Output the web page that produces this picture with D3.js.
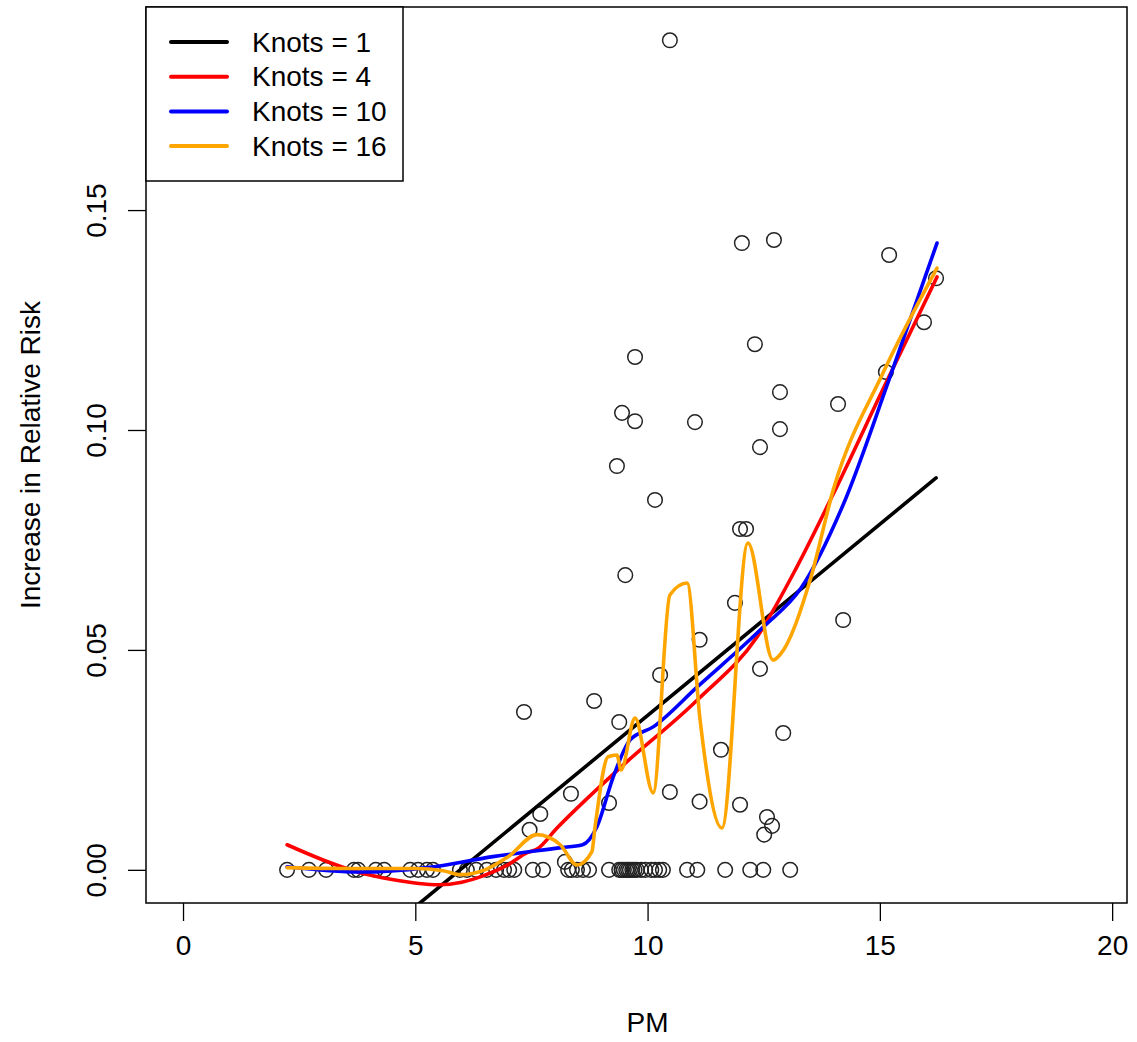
<!DOCTYPE html>
<html>
<head>
<meta charset="utf-8">
<script src="https://cdn.jsdelivr.net/npm/d3@7"></script>
<style>
  html, body { margin: 0; padding: 0; background: #fff; }
  text { font-family: "Liberation Sans", Arial, sans-serif; fill: #000; }
</style>
</head>
<body>
<svg id="chart" width="1137" height="1042"></svg>
<script>
// ---- data ----
const xTicks = [0, 5, 10, 15, 20];
const yTicks = [0.00, 0.05, 0.10, 0.15];
const yTickLabels = ["0.00", "0.05", "0.10", "0.15"];

const pointsPM = [
  10.48, 12.72, 12.03, 15.2, 16.21, 15.95, 12.31, 9.73, 15.13, 12.85, 14.1, 9.45, 9.73, 11.02, 12.85,
  12.42, 9.34, 10.16, 11.99, 12.12, 9.52, 11.88, 14.21, 11.12, 12.42, 10.27, 7.34, 8.85, 9.39, 12.92,
  11.58, 8.35, 10.48, 11.12, 9.17, 11.99, 7.69, 12.57, 7.46, 12.68, 12.51, 8.22,
  2.24, 2.71, 3.08, 3.68, 3.77, 4.15, 4.33, 4.89, 5.06, 5.25, 5.38, 5.96, 6.11, 6.31, 6.54, 6.74,
  6.91, 7.02, 7.13, 7.53, 7.75, 8.29, 8.37, 8.48, 8.61, 8.74, 9.17, 9.39, 9.44, 9.49, 9.54, 9.58,
  9.62, 9.67, 9.72, 9.77, 9.86, 9.95, 10.08, 10.16, 10.25, 10.33, 10.85, 11.07, 11.67, 12.21, 12.49, 13.07
];
const pointsRR = [
  0.1886, 0.1432, 0.1425, 0.1398, 0.1345, 0.1245, 0.1195, 0.1166, 0.1132, 0.1086, 0.1059, 0.1039, 0.1020, 0.1018, 0.1002,
  0.0961, 0.0918, 0.0841, 0.0775, 0.0775, 0.0670, 0.0607, 0.0568, 0.0523, 0.0457, 0.0443, 0.0359, 0.0384, 0.0336, 0.0311,
  0.0273, 0.0173, 0.0177, 0.0155, 0.0152, 0.0148, 0.0127, 0.0120, 0.0091, 0.0100, 0.0080, 0.0018,
  0, 0, 0, 0, 0, 0, 0, 0, 0, 0, 0, 0, 0, 0, 0, 0,
  0, 0, 0, 0, 0, 0, 0, 0, 0, 0, 0, 0, 0, 0, 0, 0,
  0, 0, 0, 0, 0, 0, 0, 0, 0, 0, 0, 0, 0, 0, 0, 0
];

const seriesNames = ["Knots = 1", "Knots = 4", "Knots = 10", "Knots = 16"];
const seriesColors = ["#000000", "#ff0000", "#0000ff", "#ffa500"];

const knots1PM = [2.24, 16.21];
const knots1RR = [-0.0324, 0.0891];

const knots4PM = [2.24, 3.0, 3.76, 4.5, 5.5, 6.0, 6.5, 7.0, 7.41, 7.62, 8.05, 9.41, 11.07, 12.36, 13.22, 14.0, 15.1, 16.23];
const knots4RR = [0.0057, 0.0023, -0.0005, -0.0022, -0.0034, -0.0028, -0.0012, 0.0012, 0.0039, 0.0047, 0.0095, 0.0232, 0.0386, 0.0530, 0.0690, 0.0855, 0.1100, 0.1348];

const knots10PM = [2.24, 3.8, 5.25, 6.67, 8.1, 8.6, 8.91, 9.26, 9.62, 10.12, 11.07, 12.49, 13.3, 14.21, 15.2, 16.23];
const knots10RR = [0.0007, -0.0005, 0.0005, 0.0030, 0.0050, 0.0057, 0.0098, 0.0211, 0.0295, 0.0325, 0.0416, 0.0552, 0.0640, 0.0830, 0.1115, 0.1425];

const knots16PM = [2.24, 3.5, 5.0, 5.6, 5.96, 6.5, 7.0, 7.62, 8.12, 8.48, 8.8, 8.87, 9.15, 9.34, 9.43, 9.73, 10.12, 10.48, 10.85, 11.13, 11.6, 12.16, 12.7, 12.85, 13.5, 14.0, 15.07, 16.23];
const knots16RR = [0.0005, 0.0003, 0.0003, -0.0002, -0.0011, 0.0000, 0.0030, 0.0080, 0.0057, 0.0011, 0.0041, 0.0098, 0.0257, 0.0261, 0.0227, 0.0345, 0.0175, 0.0625, 0.0652, 0.0341, 0.0095, 0.0743, 0.0477, 0.0489, 0.0659, 0.0865, 0.1130, 0.1368];

// ---- layout ----
const svg = d3.select("#chart");
const pLeft = 146, pRight = 1127, pTop = 7, pBottom = 903;

const x = d3.scaleLinear().domain([-0.797, 20.32]).range([pLeft, pRight]);
const y = d3.scaleLinear().domain([-0.00754, 0.19617]).range([pBottom, pTop]);

svg.append("defs").append("clipPath").attr("id", "plotclip")
  .append("rect").attr("x", pLeft).attr("y", pTop).attr("width", pRight - pLeft).attr("height", pBottom - pTop);

// axes
const xAxis = d3.axisBottom(x).tickValues(xTicks).tickSize(18).tickPadding(14).tickFormat(d3.format("d"));
const gx = svg.append("g").attr("transform", `translate(0,${pBottom})`).call(xAxis);
gx.select(".domain").remove();
gx.selectAll(".tick line").attr("stroke", "#000").attr("stroke-width", 1.3);
gx.selectAll(".tick text").attr("font-size", 28).attr("dy", "0.72em");

const yAxis = d3.axisLeft(y).tickValues(yTicks).tickSize(18).tickFormat((d, i) => yTickLabels[i]);
const gy = svg.append("g").attr("transform", `translate(${pLeft},0)`).call(yAxis);
gy.select(".domain").remove();
gy.selectAll(".tick line").attr("stroke", "#000").attr("stroke-width", 1.3);
gy.selectAll(".tick text")
  .attr("font-size", 28)
  .attr("text-anchor", "middle")
  .attr("x", 0)
  .attr("transform", "translate(-50,0) rotate(-90)")
  .attr("dy", "0.36em");

// axis titles
svg.append("text").attr("x", (x(0) + x(20)) / 2).attr("y", 1022).attr("text-anchor", "middle")
  .attr("dominant-baseline", "central").attr("font-size", 28).text("PM");
svg.append("text").attr("transform", `translate(30,${(pTop + pBottom) / 2}) rotate(-90)`)
  .attr("text-anchor", "middle").attr("dominant-baseline", "central").attr("font-size", 28)
  .text("Increase in Relative Risk");

// points
const pts = pointsPM.map((v, i) => ({ x: v, y: pointsRR[i] }));
svg.append("g").selectAll("circle").data(pts).join("circle")
  .attr("cx", d => x(d.x)).attr("cy", d => y(d.y)).attr("r", 7.3)
  .attr("fill", "none").attr("stroke", "#222").attr("stroke-width", 1.5);

// lines
const series = [
  [knots1PM, knots1RR],
  [knots4PM, knots4RR],
  [knots10PM, knots10RR],
  [knots16PM, knots16RR]
];
const line = d3.line().x(d => x(d[0])).y(d => y(d[1])).curve(d3.curveMonotoneX);
const gl = svg.append("g").attr("clip-path", "url(#plotclip)");
series.forEach((s, i) => {
  const data = s[0].map((v, j) => [v, s[1][j]]);
  gl.append("path").datum(data).attr("d", line)
    .attr("fill", "none").attr("stroke", seriesColors[i]).attr("stroke-width", 3.6)
    .attr("stroke-linejoin", "round").attr("stroke-linecap", "round");
});

// plot box
svg.append("rect").attr("x", pLeft).attr("y", pTop).attr("width", pRight - pLeft).attr("height", pBottom - pTop)
  .attr("fill", "none").attr("stroke", "#000").attr("stroke-width", 1.5);

// legend
const lg = svg.append("g");
lg.append("rect").attr("x", pLeft).attr("y", pTop).attr("width", 403 - pLeft).attr("height", 181 - pTop)
  .attr("fill", "#fff").attr("stroke", "#000").attr("stroke-width", 1.5);
seriesNames.forEach((name, i) => {
  const yy = 42 + i * 34.7;
  lg.append("line").attr("x1", 171).attr("x2", 227).attr("y1", yy).attr("y2", yy)
    .attr("stroke", seriesColors[i]).attr("stroke-width", 4).attr("stroke-linecap", "round");
  lg.append("text").attr("x", 252).attr("y", yy).attr("dominant-baseline", "central")
    .attr("font-size", 28).text(name);
});
</script>
</body>
</html>
